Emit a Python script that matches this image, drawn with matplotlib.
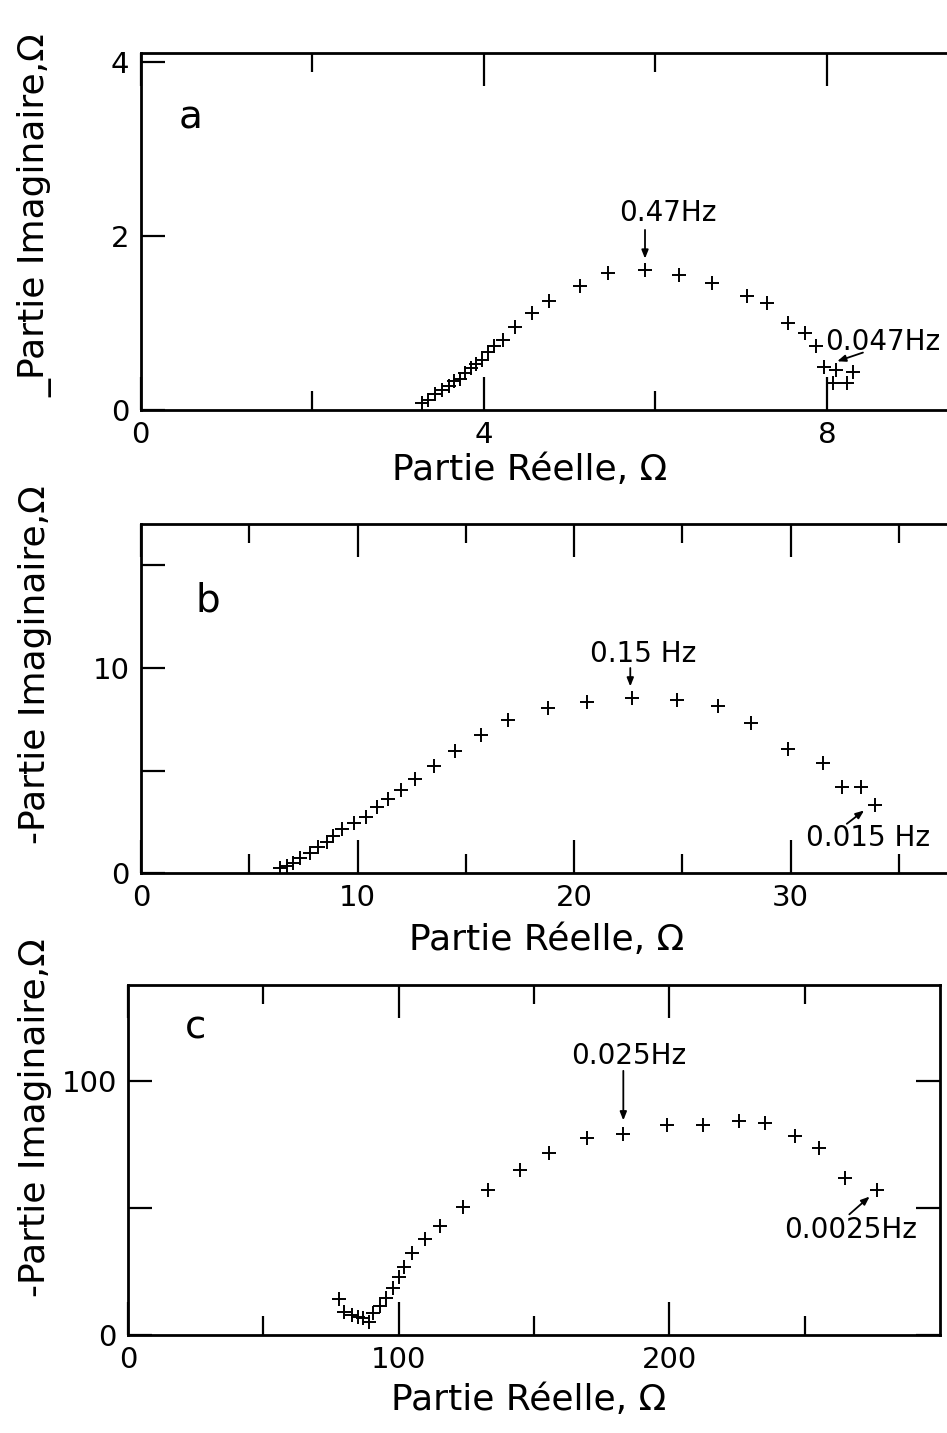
import matplotlib
matplotlib.use("Agg")
import matplotlib.pyplot as plt
import numpy as np

plt.rcParams['font.family'] = ['DejaVu Sans']

# --- panel a : Nyquist data (Ohm) ---
a_re = [3.28, 3.35, 3.43, 3.51, 3.59, 3.65, 3.72, 3.78, 3.85, 3.91, 3.98, 4.05,
        4.12, 4.23, 4.36, 4.56, 4.76, 5.12, 5.45, 5.88, 6.28, 6.66, 7.07, 7.30,
        7.55, 7.74, 7.87, 7.97, 8.11, 8.31, 8.07, 8.23]
a_im = [0.08, 0.12, 0.18, 0.23, 0.28, 0.33, 0.36, 0.42, 0.48, 0.53, 0.57, 0.67,
        0.73, 0.80, 0.95, 1.12, 1.25, 1.43, 1.57, 1.61, 1.55, 1.46, 1.31, 1.23,
        1.00, 0.88, 0.74, 0.50, 0.46, 0.44, 0.31, 0.31]

# --- panel b ---
b_re = [6.42, 6.73, 7.03, 7.34, 7.80, 8.19, 8.58, 8.85, 9.27, 9.84, 10.4, 10.9,
        11.4, 12.0, 12.66, 13.55, 14.5, 15.7, 16.97, 18.8, 20.6, 22.66, 24.74,
        26.67, 28.16, 29.9, 31.5, 32.36, 33.24, 33.9]
b_im = [0.23, 0.34, 0.47, 0.72, 0.96, 1.28, 1.53, 1.80, 2.13, 2.45, 2.75, 3.2,
        3.6, 4.05, 4.57, 5.23, 5.97, 6.73, 7.46, 8.03, 8.36, 8.52, 8.44, 8.15,
        7.30, 6.03, 5.38, 4.21, 4.21, 3.32]

# --- panel c ---
c_re = [77.8, 79.9, 82.7, 84.9, 87.0, 88.9, 90.7, 93.0, 95.3, 97.9, 100.0, 102.1,
        104.9, 109.9, 115.4, 123.8, 133.1, 144.7, 155.6, 169.7, 183.0, 199.0,
        212.6, 225.6, 235.4, 246.3, 255.3, 264.8, 276.8]
c_im = [14.1, 9.2, 7.9, 7.0, 6.6, 5.2, 8.5, 11.4, 14.4, 18.4, 23.0, 26.9,
        32.4, 37.7, 43.0, 50.5, 57.1, 65.0, 71.8, 77.4, 79.1, 82.7,
        82.7, 84.4, 83.3, 78.3, 73.5, 61.7, 57.1]

W, H = 947, 1433
fig = plt.figure(figsize=(W / 100, H / 100), dpi=100)


def px_axes(left, right, bottom, top):
    # axes box given in picture pixels
    return fig.add_axes([left / W, 1 - bottom / H, (right - left) / W, (bottom - top) / H])


def style(ax, xlim, ylim, xmaj, xmin, ymaj, ylab):
    ax.set_xlim(*xlim)
    ax.set_ylim(*ylim)
    ax.set_xticks(xmaj)
    ax.set_xticks(xmin, minor=True)
    ax.set_yticks(ymaj)
    ax.set_yticklabels(ylab)
    ax.tick_params(which='both', direction='in', top=True, right=True, width=1.6,
                   labelsize=21, pad=8)
    ax.tick_params(axis='x', which='major', length=24)
    ax.tick_params(axis='x', which='minor', length=14)
    ax.tick_params(axis='y', which='major', length=17)
    for s in ax.spines.values():
        s.set_linewidth(2.0)


mk = dict(marker='+', ls='none', color='black', ms=10, mew=1.4)
arr = dict(arrowstyle='-|>,head_length=0.5,head_width=0.2', color='black', lw=1.3,
           shrinkA=0, shrinkB=0)
fs_note = 20

# panel a
ax1 = px_axes(140.5, 998.5, 410, 53.3)
ax1.plot(a_re, a_im, **mk)
style(ax1, (0, 10), (0, 4.1), [0, 4, 8], [2, 6], [0, 2, 4], ['0', '2', '4'])
ax1.set_xticklabels(['0', '4', '8'])
ax1.text(0.58, 3.36, 'a', fontsize=28, va='center', ha='center')
ax1.annotate('', xy=(5.88, 1.74), xytext=(5.88, 2.07), arrowprops=arr)
ax1.text(6.15, 2.26, '0.47Hz', fontsize=fs_note, ha='center', va='center')
ax1.annotate('', xy=(8.12, 0.56), xytext=(8.42, 0.66), arrowprops=arr)
ax1.text(7.98, 0.78, '0.047Hz', fontsize=fs_note, ha='left', va='center')

# panel b
ax2 = px_axes(141, 1007, 873, 524.5)
ax2.plot(b_re, b_im, **mk)
style(ax2, (0, 40), (0, 17), [0, 10, 20, 30], [5, 15, 25, 35], [0, 5, 10, 15],
      ['0', '', '10', ''])
ax2.text(3.1, 13.3, 'b', fontsize=28, va='center', ha='center')
ax2.annotate('', xy=(22.6, 9.1), xytext=(22.6, 10.0), arrowprops=arr)
ax2.text(23.2, 10.7, '0.15 Hz', fontsize=fs_note, ha='center', va='center')
ax2.annotate('', xy=(33.4, 3.05), xytext=(32.6, 2.4), arrowprops=arr)
ax2.text(33.6, 1.7, '0.015 Hz', fontsize=fs_note, ha='center', va='center')

# panel c
ax3 = px_axes(128, 940, 1335, 984.5)
ax3.plot(c_re, c_im, **mk)
style(ax3, (0, 300), (0, 138), [0, 100, 200], [50, 150, 250], [0, 50, 100],
      ['0', '', '100'])
ax3.text(25, 121, 'c', fontsize=28, va='center', ha='center')
ax3.annotate('', xy=(183, 84.5), xytext=(183, 104), arrowprops=arr)
ax3.text(185, 110, '0.025Hz', fontsize=fs_note, ha='center', va='center')
ax3.annotate('', xy=(274, 54.5), xytext=(266.5, 47.5), arrowprops=arr)
ax3.text(267, 41.3, '0.0025Hz', fontsize=fs_note, ha='center', va='center')

# axis titles
for (xc, yc) in [(530, 470), (547, 940), (529, 1400)]:
    fig.text(xc / W, 1 - yc / H, 'Partie Réelle, Ω', fontsize=26,
             ha='center', va='center')
for (yc, t) in [(215, '_Partie Imaginaire,Ω'), (665, '-Partie Imaginaire,Ω'),
                (1118, '-Partie Imaginaire,Ω')]:
    fig.text(35 / W, 1 - yc / H, t, fontsize=26, rotation=90,
             ha='center', va='center')

fig.savefig('out.png', dpi=100)
